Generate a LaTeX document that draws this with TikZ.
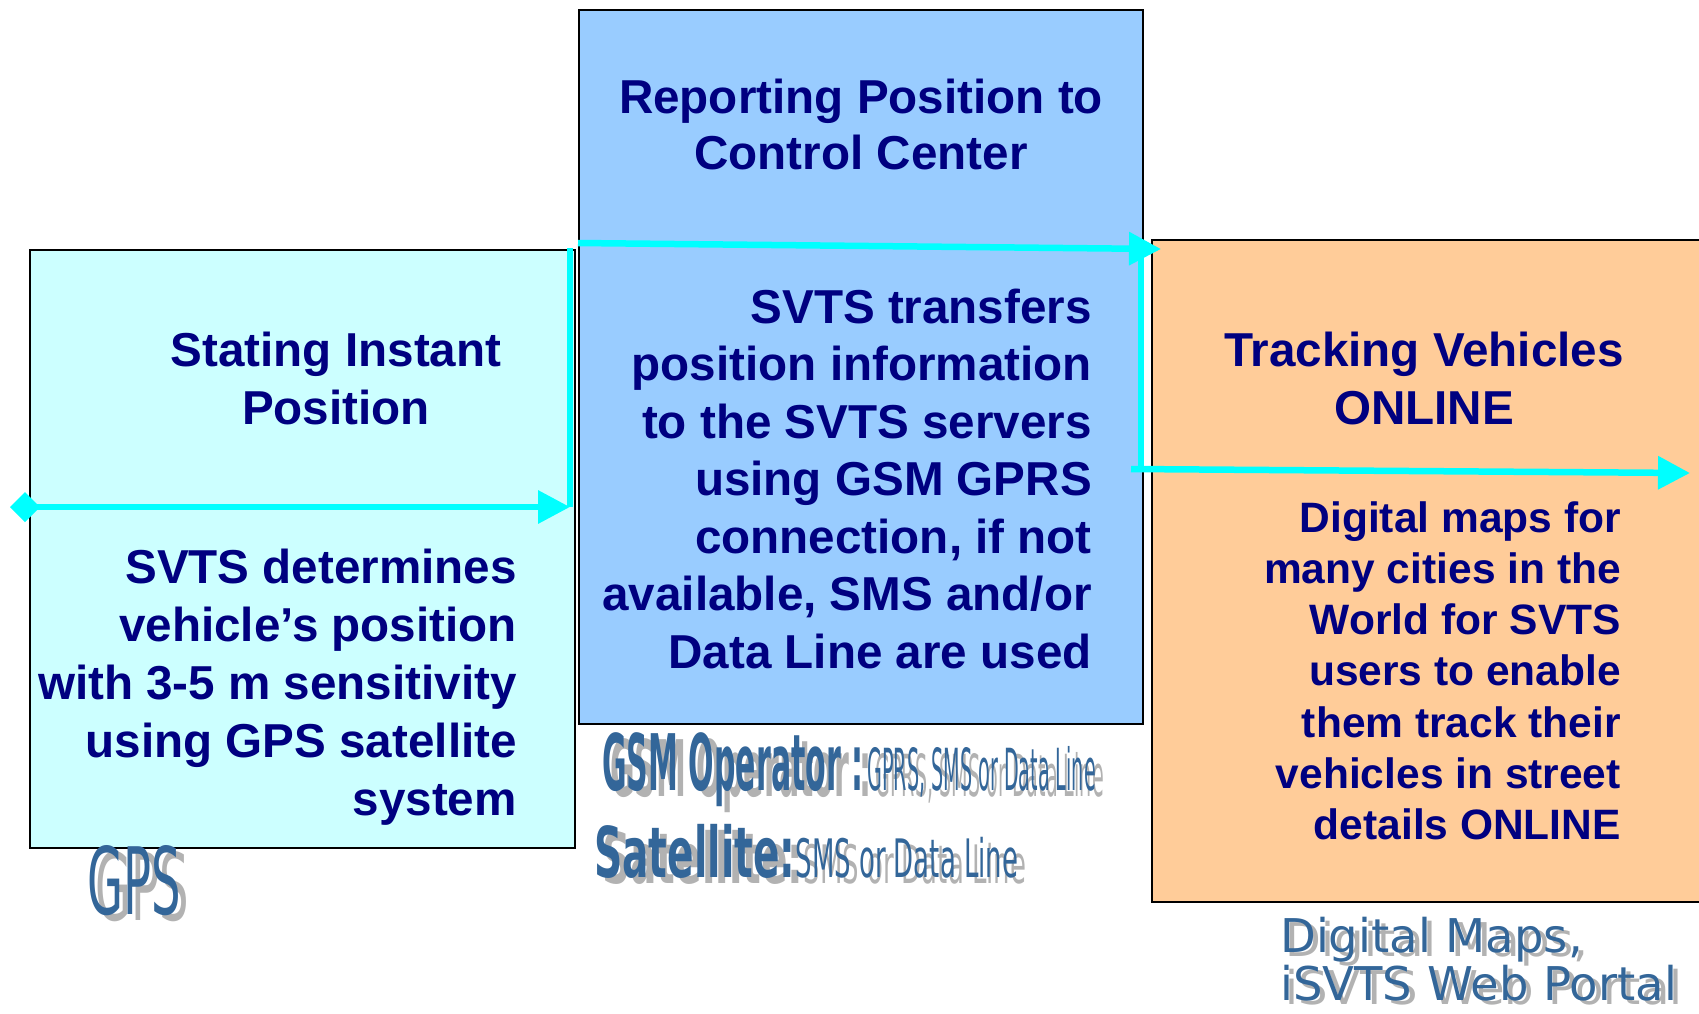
\documentclass[tikz,border=0pt]{standalone}
\usepackage{fontspec}
\setmainfont{Liberation Sans}
\newfontfamily\tagfont{DejaVu Sans}
\usetikzlibrary{arrows.meta}

\definecolor{navy}{RGB}{0,0,128}
\definecolor{flowcyan}{RGB}{0,255,255}
\definecolor{gpsfill}{RGB}{204,255,255}
\definecolor{svtsfill}{RGB}{153,204,255}
\definecolor{mapfill}{RGB}{255,204,153}
\definecolor{tagblue}{RGB}{51,102,153}
\definecolor{tagshade}{RGB}{178,178,178}

\tikzset{
  box/.style={draw=black, line width=1.5pt, anchor=north west, inner sep=0pt},
  boxtext/.style={text=navy, inner sep=0pt, font=\bfseries\fontsize{47.6}{58}\selectfont},
  smalltext/.style={text=navy, inner sep=0pt, font=\bfseries\fontsize{42.5}{51}\selectfont},
  flow/.style={draw=flowcyan, line width=6.5pt},
  tag/.style={text=tagblue, inner sep=0pt, anchor=base west},
  tagshadow/.style={text=tagshade, inner sep=0pt, anchor=base west}
}
% condensed label text
\newcommand{\narrow}[3]{\scalebox{#1}[1]{\fontsize{#2}{#2}\selectfont #3}}

\begin{document}
\begin{tikzpicture}[x=1pt, y=-1pt]
  \useasboundingbox (0,0) rectangle (1699,1013);

  % the three boxes
  \node[box, fill=gpsfill, minimum width=545pt, minimum height=598pt] (gps) at (29,249) {};
  \node[box, fill=svtsfill, minimum width=564pt, minimum height=714pt] (svts) at (578,9) {};
  \node[box, fill=mapfill, minimum width=600pt, minimum height=662pt] (maps) at (1151,239) {};

  % flow arrows
  \coordinate (gpsin) at (10,507);
  \coordinate (gpsout) at (570,507);
  \coordinate (gpstop) at (570,248);
  \coordinate (svtsin) at (578,243);
  \coordinate (svtsout) at (1161,249);
  \coordinate (svtsdown) at (1141,470);
  \coordinate (mapsin) at (1131,469);
  \coordinate (mapsout) at (1690,473);
  \draw[flow] (gpstop) -- (gpsout);
  \draw[flow, {Diamond[length=30pt,width=30pt]}-{Triangle[length=32pt,width=32pt]}] (gpsin) -- (gpsout);
  \draw[flow, -{Triangle[length=32pt,width=32pt]}] (svtsin) -- (svtsout);
  \draw[flow] (svtsdown |- svtsout) -- (svtsdown);
  \draw[flow, -{Triangle[length=32pt,width=32pt]}] (mapsin) -- (mapsout);

  % titles
  \node[boxtext, anchor=base] (gpstitle1) at (336,366) {Stating Instant};
  \node[boxtext, anchor=base] (gpstitle2) at (336,424) {Position};
  \node[boxtext, anchor=base] (svtstitle1) at (861,113) {Reporting Position to};
  \node[boxtext, anchor=base] (svtstitle2) at (861,169) {Control Center};
  \node[boxtext, anchor=base] (mapstitle1) at (1424,366) {Tracking Vehicles};
  \node[boxtext, anchor=base] (mapstitle2) at (1424,424) {ONLINE};

  % box texts
  \foreach \txt [count=\i] in {SVTS determines, vehicle’s position,
      with 3-5 m sensitivity, using GPS satellite, system}
    \node[boxtext, anchor=base east] (gpsline\i) at (517,{583+(\i-1)*58}) {\txt};
  \foreach \txt [count=\i] in {SVTS transfers, position information,
      to the SVTS servers, using GSM GPRS, {connection, if not},
      {available, SMS and/or}, Data Line are used}
    \node[boxtext, anchor=base east] (svtsline\i) at (1092,{323+(\i-1)*57.5}) {\txt};
  \foreach \txt [count=\i] in {Digital maps for, many cities in the,
      World for SVTS, users to enable, them track their,
      vehicles in street, details ONLINE}
    \node[smalltext, anchor=base east] (mapsline\i) at (1621,{532+(\i-1)*51.3}) {\txt};

  % labels under the boxes
  \foreach \sty/\dx in {tagshadow/8, tag/0} {
    \node[\sty] (gpstag) at ({87+\dx},{914+\dx*0.8}) {\tagfont\narrow{0.5}{93}{GPS}};
    \node[\sty] (gsmtag) at ({602+\dx},{790+\dx*0.8}) {\tagfont\narrow{0.385}{78}{\bfseries GSM Operator :}\hspace{4pt}\narrow{0.33}{58}{GPRS, SMS or Data Line}};
    \node[\sty] (sattag) at ({594+\dx},{877+\dx*0.8}) {\tagfont\narrow{0.56}{70}{\bfseries Satellite:}\narrow{0.49}{53}{SMS or Data Line}};
    \node[\sty] (maptag1) at ({1280+\dx*0.7},{952+\dx*0.6}) {\tagfont\fontsize{46.5}{48}\selectfont Digital Maps,};
    \node[\sty] (maptag2) at ({1280+\dx*0.7},{1000+\dx*0.6}) {\tagfont\fontsize{46.5}{48}\selectfont iSVTS Web Portal};
  }
\end{tikzpicture}
\end{document}
